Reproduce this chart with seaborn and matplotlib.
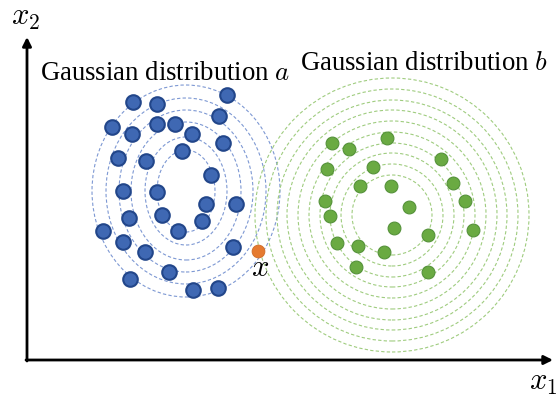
import numpy as np
import pandas as pd
import matplotlib
matplotlib.use('Agg')
import matplotlib.pyplot as plt
from matplotlib.patches import Ellipse
import seaborn as sb

# Samples of distribution a (blue) and b (green), plus the query point x
blue_x1 = [106, 130, 200, 85, 105, 130, 148, 192, 165, 196, 91, 119, 155, 184, 96,
           130, 179, 209, 102, 135, 175, 151, 76, 96, 118, 206, 142, 103, 166, 191]
blue_x2 = [258, 256, 265, 233, 226, 236, 236, 244, 226, 217, 202, 199, 209, 185, 169,
           168, 156, 156, 142, 145, 139, 129, 129, 118, 108, 113, 88, 81, 70, 72]
green_x1 = [305, 322, 360, 414, 300, 346, 426, 333, 364, 438, 298,
            303, 382, 446, 367, 401, 310, 331, 357, 329, 401]
green_x2 = [217, 211, 222, 201, 191, 193, 177, 174, 174, 159, 159,
            144, 153, 130, 132, 125, 117, 114, 108, 93, 88]
query_x1 = [231]
query_x2 = [109]

# Contour rings (centre and radii) of each distribution
blue_center = (159, 169)
blue_rx = [29, 41, 55, 67, 80, 94]
blue_ry = [41, 54, 69, 81, 93, 106]
green_center = (365, 145)
green_r = [40, 51, 62, 72, 83, 94, 105, 115, 126, 137]

plt.rcParams['font.family'] = ['Liberation Serif', 'DejaVu Serif']
plt.rcParams['mathtext.fontset'] = 'cm'

fig = plt.figure(figsize=(5.59, 3.97), dpi=100)
ax = fig.add_axes([0, 0, 1, 1])
ax.set_xlim(-27, 532)
ax.set_ylim(-37, 360)
ax.axis('off')

# Dashed contour lines
for rx, ry in zip(blue_rx, blue_ry):
    ax.add_patch(Ellipse(blue_center, 2 * rx, 2 * ry, fill=False, ec='#7d98d3',
                         lw=0.8, ls=(0, (3, 2)), zorder=1))
for r in green_r:
    ax.add_patch(Ellipse(green_center, 2 * r, 2 * r, fill=False, ec='#9fcc7f',
                         lw=0.8, ls=(0, (3, 2)), zorder=1))

# Points
sb.scatterplot(x=blue_x1, y=blue_x2, s=110, color='#3f68b3', edgecolor='#22468a',
               linewidth=1.5, ax=ax, zorder=3)
sb.scatterplot(x=green_x1, y=green_x2, s=85, color='#6aaa42', edgecolor='#55923a',
               linewidth=0.8, ax=ax, zorder=3)
sb.scatterplot(x=query_x1, y=query_x2, s=85, color='#e57a30', edgecolor='#d06a25',
               linewidth=0.6, ax=ax, zorder=3)

# Axes arrows
arrow = dict(arrowstyle='-|>', lw=2, color='black', mutation_scale=13, shrinkA=0, shrinkB=0)
ax.annotate('', xy=(526, 0), xytext=(-1, 0), arrowprops=arrow)
ax.annotate('', xy=(0, 323), xytext=(0, -1), arrowprops=arrow)

# Labels
ax.text(13, 280, 'Gaussian distribution $a$', fontsize=19.3, va='baseline', ha='left')
ax.text(273, 290, 'Gaussian distribution $b$', fontsize=19.3, va='baseline', ha='left')
ax.text(-16, 335, '$x_2$', fontsize=22, va='baseline', ha='left')
ax.text(502, -30, '$x_1$', fontsize=22, va='baseline', ha='left')
ax.text(233, 91, '$x$', fontsize=22, va='center', ha='center')

plt.savefig('out.png', dpi=100)
